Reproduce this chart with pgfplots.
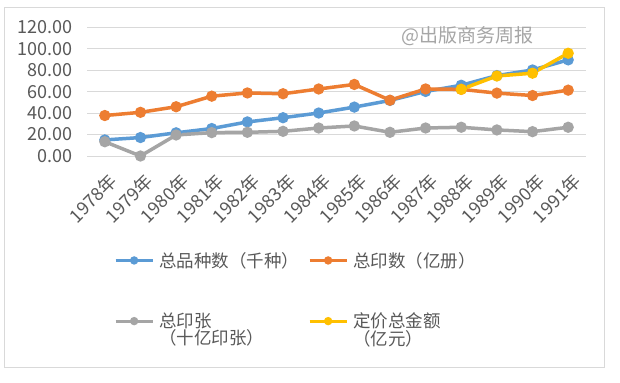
\documentclass[border=0pt]{standalone}
\usepackage{fontspec}
\setmainfont{Noto Sans CJK SC}
\usepackage{pgfplots}
\pgfplotsset{compat=1.18}
\definecolor{cblue}{HTML}{5B9BD5}
\definecolor{corange}{HTML}{ED7D31}
\definecolor{cgray}{HTML}{A5A5A5}
\definecolor{cyellow}{HTML}{FFC000}
\definecolor{cgrid}{HTML}{D9D9D9}
\definecolor{ctext}{HTML}{595959}
\definecolor{cwm}{HTML}{A6A6A6}
\begin{document}
\begin{tikzpicture}
\useasboundingbox (0,0) rectangle (620bp,383bp);
\fill[white] (0,0) rectangle (620bp,383bp);
\draw[color=cgrid, line width=0.75bp] (4bp,16bp) rectangle (604bp,376bp);
\begin{axis}[
  at={(87bp,227bp)}, anchor=south west,
  scale only axis, width=499bp, height=128.7bp,
  xmin=-0.5, xmax=13.5, ymin=0, ymax=120,
  xtick={0,...,13},
  xticklabels={1978年,1979年,1980年,1981年,1982年,1983年,1984年,1985年,1986年,1987年,1988年,1989年,1990年,1991年},
  ytick={0,20,...,120},
  axis line style={draw=none},
  major tick length=0pt,
  ymajorgrids, grid style={color=cgrid, line width=0.75bp},
  /pgf/number format/assume math mode=true,
  tick label style={font=\fontsize{18bp}{18bp}\selectfont, text=ctext},
  yticklabel style={/pgf/number format/fixed, /pgf/number format/fixed zerofill, /pgf/number format/precision=2, inner sep=0pt, xshift=-14bp},
  xticklabel style={xshift=3bp, yshift=-16bp, rotate=45, anchor=north east, inner sep=0pt},
  clip=false,
  every axis plot/.append style={line width=3.5bp, mark=*, mark size=3.8bp},
  legend columns=2,
  legend cell align=left,
  legend image code/.code={\draw[mark repeat=2,mark phase=2,line width=3bp,mark size=2.6bp] plot coordinates {(0bp,0bp)(18.5bp,0bp)(37bp,0bp)};},
  legend style={at={(axis description cs:0.054,-0.746)}, anchor=north west, draw=none, fill=none, inner sep=0pt,
    font=\fontsize{17.5bp}{17.5bp}\selectfont, text=ctext,
    nodes={align=left, inner sep=0pt},
    column sep=5bp, row sep=44bp,
    /tikz/every even column/.append style={column sep=9bp}},
]
\addplot[color=cblue, mark options={fill=cblue}] coordinates {
(0,14.99) (1,17.21) (2,21.62) (3,25.60) (4,31.78) (5,35.70) (6,40.07) (7,45.60) (8,51.79) (9,60.19) (10,65.96) (11,74.97) (12,80.22) (13,89.62)};
\addlegendentry{总品种数（千种）}
\addplot[color=corange, mark options={fill=corange}] coordinates {
(0,37.74) (1,40.72) (2,45.93) (3,55.78) (4,58.79) (5,58.04) (6,62.48) (7,66.73) (8,52.03) (9,62.52) (10,62.15) (11,58.64) (12,56.39) (13,61.39)};
\addlegendentry{总印数（亿册）}
\addplot[color=cgray, mark options={fill=cgray}, legend image post style={yshift=8.5bp}] coordinates {
(0,13.3) (1,0) (2,19.6) (3,21.8) (4,22.1) (5,23.0) (6,26.1) (7,28.0) (8,22.1) (9,26.1) (10,26.8) (11,24.3) (12,22.7) (13,26.8)};
\addlegendentry{总印张\\（十亿印张）}
\addplot[color=cyellow, mark options={fill=cyellow}, legend image post style={yshift=8.5bp}] coordinates {
(10,62.2) (11,74.6) (12,77.2) (13,95.8)};
\addlegendentry{定价总金额\\（亿元）}
\node[text=cwm, font=\fontsize{19bp}{19bp}\selectfont] at (axis description cs:0.762,0.932) {@出版商务周报};
\end{axis}
\end{tikzpicture}
\end{document}
